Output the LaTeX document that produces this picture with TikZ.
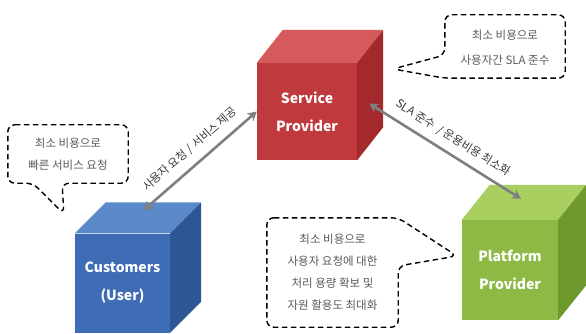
\documentclass[tikz,border=0pt]{standalone}
\usepackage{fontspec}
\setmainfont{Noto Sans CJK KR}
\usetikzlibrary{arrows.meta,calc}
\definecolor{redfront}{HTML}{C03A3D}
\definecolor{redtop}{HTML}{D65A5C}
\definecolor{redside}{HTML}{A3292C}
\definecolor{bluefront}{HTML}{3E6DB5}
\definecolor{bluetop}{HTML}{5B8ACB}
\definecolor{blueside}{HTML}{2D5694}
\definecolor{greenfront}{HTML}{8DB944}
\definecolor{greentop}{HTML}{A8CF60}
\definecolor{greenside}{HTML}{6F982D}
\definecolor{arrowgray}{HTML}{7F7F7F}
\definecolor{notegray}{HTML}{5A5A5A}
\definecolor{labelgray}{HTML}{3A3A3A}

% top and right faces behind a front-face node
\newcommand\cubefaces[5]{%
  \fill[#4] (#1.north west) -- ++(#2,#3) -- ($(#1.north east)+(#2,#3)$) -- (#1.north east) -- cycle;
  \fill[#5] (#1.north east) -- ++(#2,#3) -- ($(#1.south east)+(#2,#3)$) -- (#1.south east) -- cycle;
}

\begin{document}
\begin{tikzpicture}[
  x=1pt, y=-1pt,
  >=Stealth,
  cube/.style={rectangle, inner sep=0pt, text=white, align=center, font=\fontsize{14}{28}\selectfont\bfseries},
  note/.style={rectangle, inner sep=0pt, align=center, text=notegray, font=\fontsize{11.5}{22}\selectfont},
  bubble/.style={draw=black, line width=1.4pt, dash pattern=on 5.5pt off 3.5pt, rounded corners=7pt},
  link/.style={{Stealth[length=9pt,width=10pt]}-{Stealth[length=9pt,width=10pt]}, draw=arrowgray, line width=2.6pt},
  linklabel/.style={font=\fontsize{11.5}{11.5}\selectfont, text=labelgray, sloped, above=5pt}
]
  \fill[white] (0,0) rectangle (586,334);
  \useasboundingbox (0,0) rectangle (586,334);

  % cubes
  \node[cube, fill=redfront, minimum width=100pt, minimum height=97pt] (sp) at (307,111.5) {Service\\Provider};
  \cubefaces{sp}{26}{-33}{redtop}{redside}
  \node[cube, fill=bluefront, minimum width=95pt, minimum height=99pt] (cu) at (122.5,283) {Customers\\(User)};
  \cubefaces{cu}{31}{-31}{bluetop}{blueside}
  \node[cube, fill=greenfront, minimum width=96pt, minimum height=100pt] (pp) at (510,270) {Platform\\Provider};
  \cubefaces{pp}{28}{-35}{greentop}{greenside}

  % links
  \draw[link] ([shift={(21,-23)}]cu.north) -- (sp.west)
    node[linklabel, midway] {사용자 요청 / 서비스 제공};
  \draw[link] ([shift={(12,-8)}]sp.east) -- ([shift={(11,-21)}]pp.north)
    node[linklabel, midway] {SLA 준수 \ / 운용비용 최소화};

  % speech bubbles
  \node[note, minimum width=120pt, minimum height=60pt] (note1) at (505,48) {최소 비용으로\\[3pt]사용자간 SLA 준수};
  \coordinate (tip1) at (393,69);
  \draw[bubble] ([yshift=3pt]note1.north west) -- ([yshift=3pt]note1.north east) -- (note1.south east) -- (note1.south west)
    -- (tip1) -- ([yshift=-7pt]note1.west) -- cycle;

  \node[note, minimum width=120pt, minimum height=58pt] (note2) at (68,154) {최소 비용으로\\빠른 서비스 요청};
  \coordinate (tip2) at (64,214);
  \draw[bubble] (note2.north west) -- (note2.north east) -- (note2.south east) -- ([xshift=-6pt]note2.south)
    -- (tip2) -- ([xshift=-35pt]note2.south) -- (note2.south west) -- cycle;

  \node[note, minimum width=131pt, minimum height=109pt] (note3) at (332.5,272.5) {최소 비용으로\\사용자 요청에 대한\\처리 용량 확보 및\\자원 활용도 최대화};
  \coordinate (tip3) at (457,256);
  \draw[bubble] (note3.north west) -- (note3.north east) -- (tip3) -- ([yshift=6.5pt]note3.east)
    -- (note3.south east) -- (note3.south west) -- cycle;
\end{tikzpicture}
\end{document}
